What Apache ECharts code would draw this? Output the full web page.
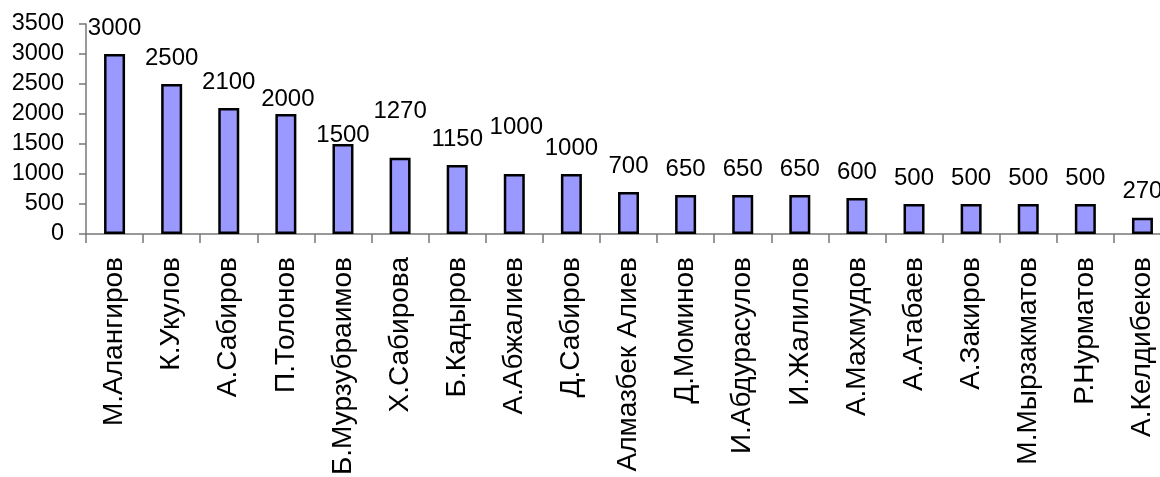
<!DOCTYPE html>
<html><head><meta charset="utf-8">
<script src="https://cdn.jsdelivr.net/npm/echarts@6/dist/echarts.min.js"></script>
<style>html,body{margin:0;padding:0;background:#fff}#c{width:1160px;height:477px}</style>
</head><body><div id="c"></div>
<script>
const categories = ['М.Алангиров','К.Укулов','А.Сабиров','П.Толонов','Б.Мурзубраимов','Х.Сабирова','Б.Кадыров','А.Абжалиев','Д.Сабиров','Алмазбек Алиев','Д.Моминов','И.Абдурасулов','И.Жалилов','А.Махмудов','А.Атабаев','А.Закиров','М.Мырзакматов','Р.Нурматов','А.Келдибеков'];
const values = [3000,2500,2100,2000,1500,1270,1150,1000,1000,700,650,650,650,600,500,500,500,500,270];
const yTicks = [0,500,1000,1500,2000,2500,3000,3500];

// manual label nudges as in the original (index -> [dx, dy])
const labelNudge = {3:[2,11], 4:[0,17], 5:[0,-20], 7:[2,-21]};

const font = '"Liberation Sans", Arial, sans-serif';
const chart = echarts.init(document.getElementById('c'), null, {renderer:'canvas'});
chart.setOption({
  animation:false,
  backgroundColor:'#fff',
  grid:{left:86, top:24, width:1085, height:210, containLabel:false, outerBoundsMode:'none'},
  xAxis:{
    type:'category', data:categories, boundaryGap:true,
    axisLine:{show:true, lineStyle:{color:'#777', width:1.5}},
    axisTick:{show:true, length:9, alignWithLabel:false, interval:0, lineStyle:{color:'#777', width:1.5}},
    axisLabel:{rotate:90, interval:0, margin:23, color:'#000', fontSize:28, fontFamily:font}
  },
  yAxis:{
    type:'value', min:yTicks[0], max:yTicks[yTicks.length-1], interval:500,
    axisLine:{show:true, lineStyle:{color:'#777', width:1.5}},
    axisTick:{show:true, length:7, inside:false, lineStyle:{color:'#777', width:1.5}},
    axisLabel:{margin:22, color:'#000', fontSize:23.5, fontFamily:font, formatter: v => String(v)},
    splitLine:{show:false}
  },
  series:[{
    type:'bar', barWidth:21,
    itemStyle:{color:'#9999FF', borderColor:'#000', borderWidth:2.5},
    label:{show:true, position:'top', distance:14, color:'#000', fontSize:24, fontFamily:font},
    data: values.map((v,i)=> labelNudge[i] ? {value:v, label:{offset:labelNudge[i]}} : v)
  }]
});
</script></body></html>
